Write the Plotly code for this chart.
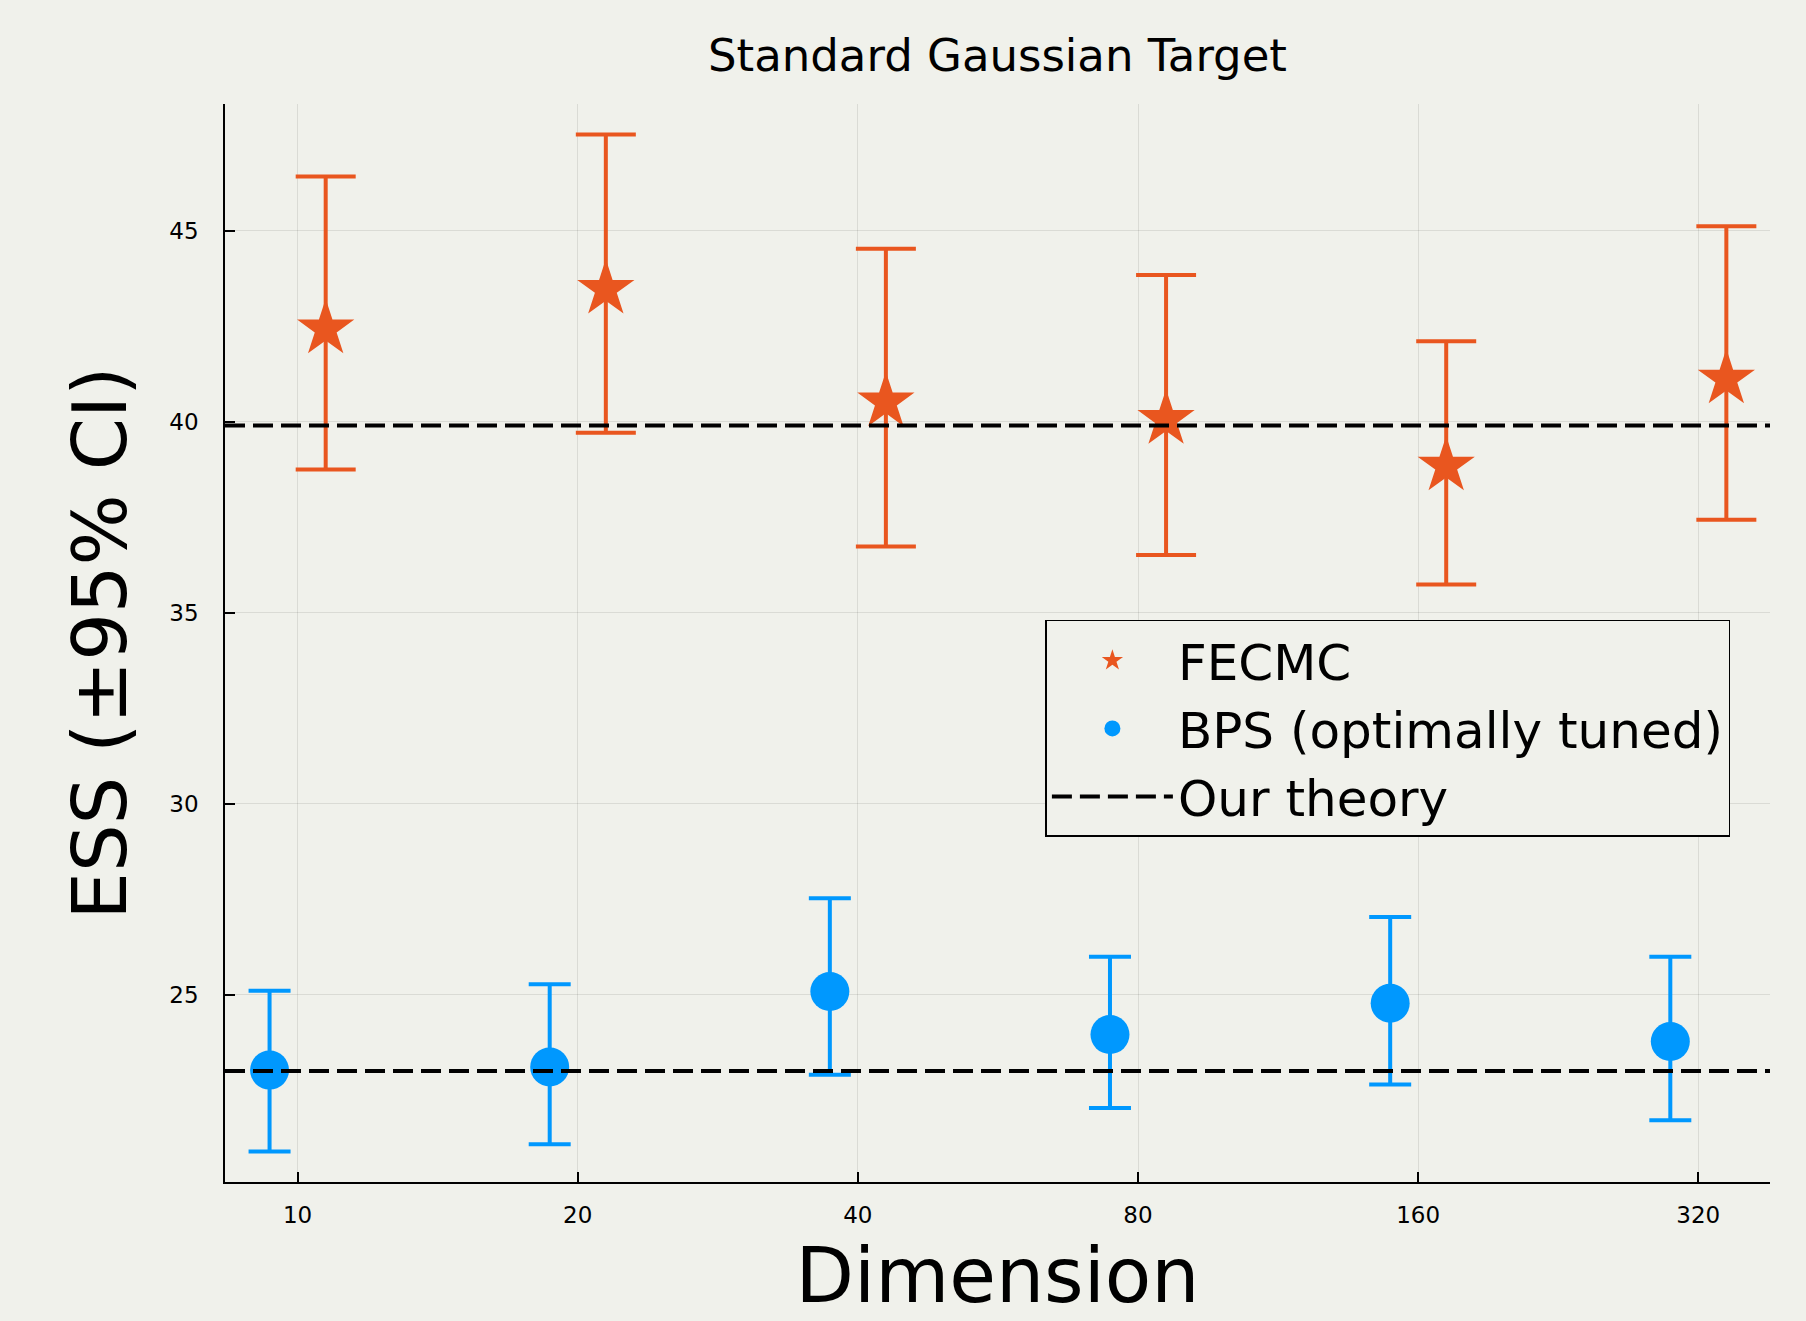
import plotly.graph_objects as go

# ---- data ----
dims = [10, 20, 40, 80, 160, 320]
dim_labels = ["10", "20", "40", "80", "160", "320"]
fecmc_x = [10.72, 21.44, 42.87, 85.75, 171.5, 343.0]
bps_x = [9.33, 18.66, 37.32, 74.64, 149.3, 298.6]

fecmc_y = [42.43, 43.47, 40.52, 40.06, 38.84, 41.12]
fecmc_hi = [46.42, 47.52, 44.53, 43.84, 42.11, 45.12]
fecmc_lo = [38.75, 39.71, 36.73, 36.51, 35.74, 37.43]

bps_y = [23.02, 23.10, 25.08, 23.95, 24.77, 23.77]
bps_hi = [25.10, 25.27, 27.52, 25.99, 27.03, 25.99]
bps_lo = [20.89, 21.08, 22.90, 22.03, 22.64, 21.71]

theory_levels = [39.9, 23.0]

y_ticks = [25, 30, 35, 40, 45]
x_range_log = [0.922, 2.5822]
y_range = [20.09, 48.32]

ORANGE = "#E9561F"
BLUE = "#0098FE"
BG = "#F0F1EB"
FONT = "DejaVu Sans"

fig = go.Figure()

fig.add_trace(go.Scatter(
    x=fecmc_x, y=fecmc_y, mode="markers", name="FECMC",
    marker=dict(symbol="star", size=43, color=ORANGE, line=dict(width=0)),
    error_y=dict(type="data", symmetric=False,
                 array=[h - v for h, v in zip(fecmc_hi, fecmc_y)],
                 arrayminus=[v - l for v, l in zip(fecmc_y, fecmc_lo)],
                 color=ORANGE, thickness=4, width=30),
))

fig.add_trace(go.Scatter(
    x=bps_x, y=bps_y, mode="markers", name="BPS (optimally tuned)",
    marker=dict(symbol="circle", size=39, color=BLUE, line=dict(width=0)),
    error_y=dict(type="data", symmetric=False,
                 array=[h - v for h, v in zip(bps_hi, bps_y)],
                 arrayminus=[v - l for v, l in zip(bps_y, bps_lo)],
                 color=BLUE, thickness=4, width=21),
))

xl, xr = 10 ** x_range_log[0], 10 ** x_range_log[1]
tx, ty = [], []
for lv in theory_levels:
    tx += [xl, xr, None]
    ty += [lv, lv, None]
fig.add_trace(go.Scatter(
    x=tx, y=ty, mode="lines", name="Our theory",
    line=dict(color="black", width=4, dash="20px,8px"),
))

axis_common = dict(
    showline=True, linecolor="black", linewidth=1.5,
    ticks="inside", ticklen=10, tickwidth=1.5, tickcolor="black",
    showgrid=True, gridcolor="rgba(0,0,0,0.09)", gridwidth=1.2,
    zeroline=False, mirror=False,
    tickfont=dict(family=FONT, size=23, color="black"),
)

fig.update_layout(
    width=1806, height=1321,
    paper_bgcolor=BG, plot_bgcolor=BG,
    margin=dict(l=225, r=36, t=104, b=139),
    font=dict(family=FONT, color="black"),
    title=dict(text="Standard Gaussian Target", x=(225 + 1770) / 2 / 1806, xanchor="center",
               y=1 - 55 / 1321, yanchor="middle",
               font=dict(family=FONT, size=45, color="black")),
    xaxis=dict(type="log", range=x_range_log, tickvals=dims, ticktext=dim_labels,
               title=dict(text="Dimension", font=dict(family=FONT, size=76, color="black"), standoff=21),
               ticklabelstandoff=12, **axis_common),
    yaxis=dict(range=y_range, tickvals=y_ticks,
               title=dict(text="ESS (±95% CI)", font=dict(family=FONT, size=75, color="black"), standoff=18),
               ticklabelstandoff=20, **axis_common),
    legend=dict(x=0.531, y=0.5214, xanchor="left", yanchor="top",
                bgcolor=BG, bordercolor="black", borderwidth=1.5,
                font=dict(family=FONT, size=50, color="black"),
                itemwidth=121),
    showlegend=True,
)

fig.write_html("out.html", config={"displayModeBar": False},
               post_script="document.body.style.margin='0';document.body.style.overflow='hidden';")
